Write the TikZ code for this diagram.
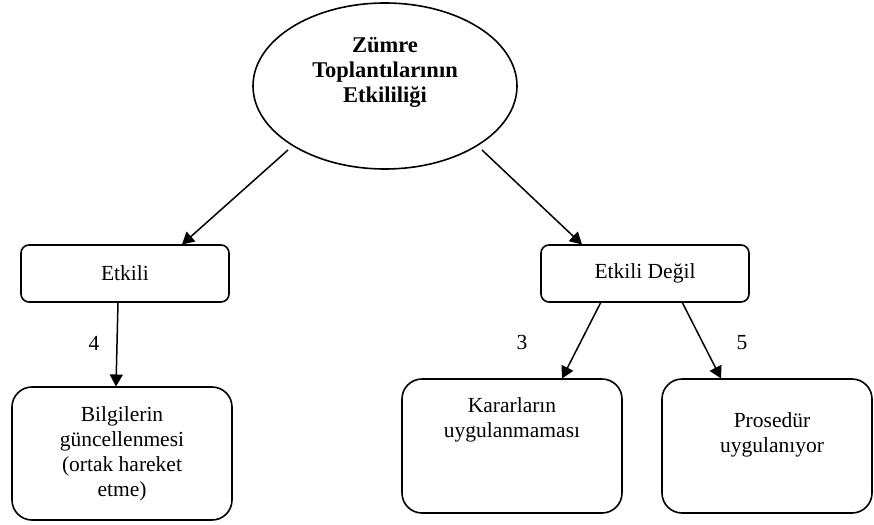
\documentclass[tikz,border=0pt]{standalone}
\usepackage{fontspec}
\setmainfont{Liberation Serif}
\usetikzlibrary{arrows.meta,shapes.geometric}
\begin{document}
\begin{tikzpicture}[x=1pt,y=-1pt,
  font=\fontsize{21.5}{25}\selectfont,
  line width=1.6pt,
  box/.style={draw,rounded corners=#1,inner sep=0pt},
  txt/.style={align=center,inner sep=0pt},
  arr/.style={-{Triangle[length=12pt,width=13pt]},line width=1.5pt}]
\useasboundingbox (0,0) rectangle (874,524);
% title ellipse
\node[draw,ellipse,minimum width=264pt,minimum height=166pt,inner sep=0pt] (top) at (385,86) {};
\node[txt,font=\fontsize{22.5}{25}\selectfont\bfseries] (toptxt) at (385,72) {Zümre\\Toplantılarının\\Etkililiği};
% second level
\node[box=8pt,minimum width=208pt,minimum height=57pt] (etk) at (125,273.5) {Etkili};
\node[box=8pt,minimum width=208pt,minimum height=57pt] (etkd) at (645,273.5) {Etkili Değil};
% third level
\node[box=20pt,minimum width=220pt,minimum height=133pt,txt] (bilgi) at (122,453.5) {Bilgilerin\\güncellenmesi\\(ortak hareket\\etme)};
\node[box=20pt,minimum width=220pt,minimum height=134pt] (karar) at (512,446) {};
\node[txt] (karartxt) at (512,420) {Kararların\\uygulanmaması};
\node[box=20pt,minimum width=210pt,minimum height=134pt] (pros) at (767,446) {};
\node[txt] (prostxt) at (772,435) {Prosedür\\uygulanıyor};
% connector endpoints
\coordinate (s1) at (288,150);
\coordinate (t1) at (182,244.5);
\coordinate (s2) at (482,150);
\coordinate (t2) at (582,244.5);
\coordinate (s3) at (118,302);
\coordinate (t3) at (116,386.5);
\coordinate (s4) at (601,302);
\coordinate (t4) at (562,378.5);
\coordinate (s5) at (682,302);
\coordinate (t5) at (721,378.5);
\draw[arr] (s1) -- (t1);
\draw[arr] (s2) -- (t2);
\draw[arr] (s3) -- (t3);
\draw[arr] (s4) -- (t4);
\draw[arr] (s5) -- (t5);
% labels
\node[txt] (l4) at (94,343) {4};
\node[txt] (l3) at (522,342) {3};
\node[txt] (l5) at (742,343) {5};
\end{tikzpicture}
\end{document}
